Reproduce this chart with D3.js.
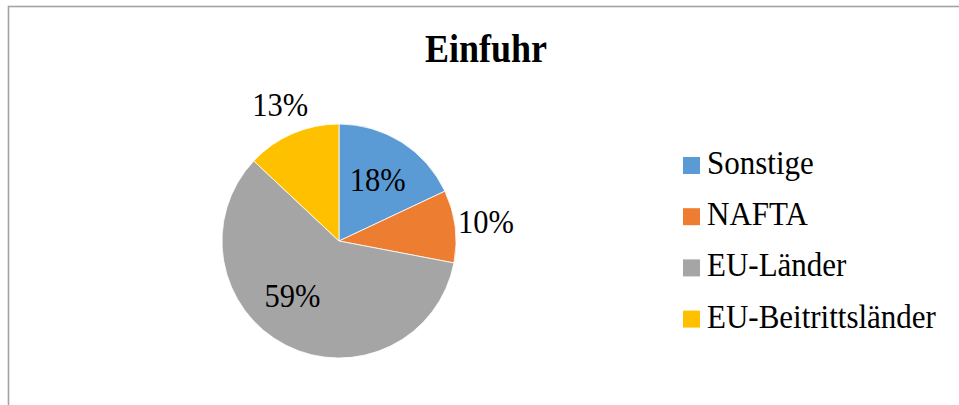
<!DOCTYPE html>
<html>
<head>
<meta charset="utf-8">
<script src="https://cdn.jsdelivr.net/npm/d3@7"></script>
<style>
  body { margin: 0; background: #fff; }
  svg { display: block; font-family: "Liberation Serif", "Times New Roman", serif; }
</style>
</head>
<body>
<div id="wrapper"></div>
<script>
const categories = ["Sonstige", "NAFTA", "EU-Länder", "EU-Beitrittsländer"];
const shares = [18, 10, 59, 13];
const colors = ["#5b9bd5", "#ed7d31", "#a5a5a5", "#ffc000"];
const title = "Einfuhr";

const drawPieChart = () => {
  const dimensions = {
    width: 959,
    height: 405,
    radius: 117,
    centerX: 339,
    centerY: 241,
  };
  // the original text is a little taller than it is wide
  const stretch = "scale(1, 1.07)";

  const data = categories.map((name, i) => ({ name, value: shares[i], color: colors[i] }));

  const wrapper = d3
    .select("#wrapper")
    .append("svg")
    .attr("width", dimensions.width)
    .attr("height", dimensions.height);

  // chart frame, cut off at the right and bottom
  wrapper
    .append("rect")
    .attr("x", 8.5)
    .attr("y", 6.5)
    .attr("width", dimensions.width + 20)
    .attr("height", dimensions.height + 20)
    .attr("fill", "none")
    .attr("stroke", "#a3a3a3")
    .attr("stroke-width", 1.6);

  wrapper
    .append("text")
    .attr("transform", `translate(486, 62) scale(1, 1.1)`)
    .attr("text-anchor", "middle")
    .style("font-size", "36px")
    .style("font-weight", "bold")
    .text(title);

  const bounds = wrapper
    .append("g")
    .attr("transform", `translate(${dimensions.centerX}, ${dimensions.centerY})`);

  const pie = d3.pie().sort(null).value((d) => d.value);
  const arcs = pie(data);
  const total = d3.sum(data, (d) => d.value);

  const arcGenerator = d3.arc().innerRadius(0).outerRadius(dimensions.radius);

  bounds
    .selectAll("path")
    .data(arcs)
    .join("path")
    .attr("d", arcGenerator)
    .attr("fill", (d) => d.data.color)
    .attr("stroke", "#fff")
    .attr("stroke-width", 0.8);

  // small slices get their label outside, like Excel's "best fit"
  const labelPosition = (d) => {
    const share = d.data.value / total;
    const r = share < 0.15 ? 148 : 72;
    let angle = (d.startAngle + d.endAngle) / 2;
    if (share > 0.5) angle += 0.23;
    return [Math.sin(angle) * r, -Math.cos(angle) * r];
  };

  bounds
    .selectAll(".label")
    .data(arcs)
    .join("text")
    .attr("class", "label")
    .attr("transform", (d) => {
      const [x, y] = labelPosition(d);
      return `translate(${x}, ${y + 10.5}) ${stretch}`;
    })
    .attr("text-anchor", "middle")
    .style("font-size", "30.5px")
    .attr("fill", "#000")
    .text((d) => Math.round((d.data.value / total) * 100) + "%");

  const legend = wrapper
    .append("g")
    .attr("transform", "translate(683, 174)");

  const legendItems = legend
    .selectAll("g")
    .data(data)
    .join("g")
    .attr("transform", (d, i) => `translate(0, ${i * 51.2})`);

  legendItems
    .append("rect")
    .attr("x", 0)
    .attr("y", -17)
    .attr("width", 17)
    .attr("height", 17)
    .attr("fill", (d) => d.color);

  legendItems
    .append("text")
    .attr("transform", `translate(24, 0) ${stretch}`)
    .style("font-size", "31px")
    .attr("fill", "#000")
    .text((d) => d.name);
};

drawPieChart();
</script>
</body>
</html>
